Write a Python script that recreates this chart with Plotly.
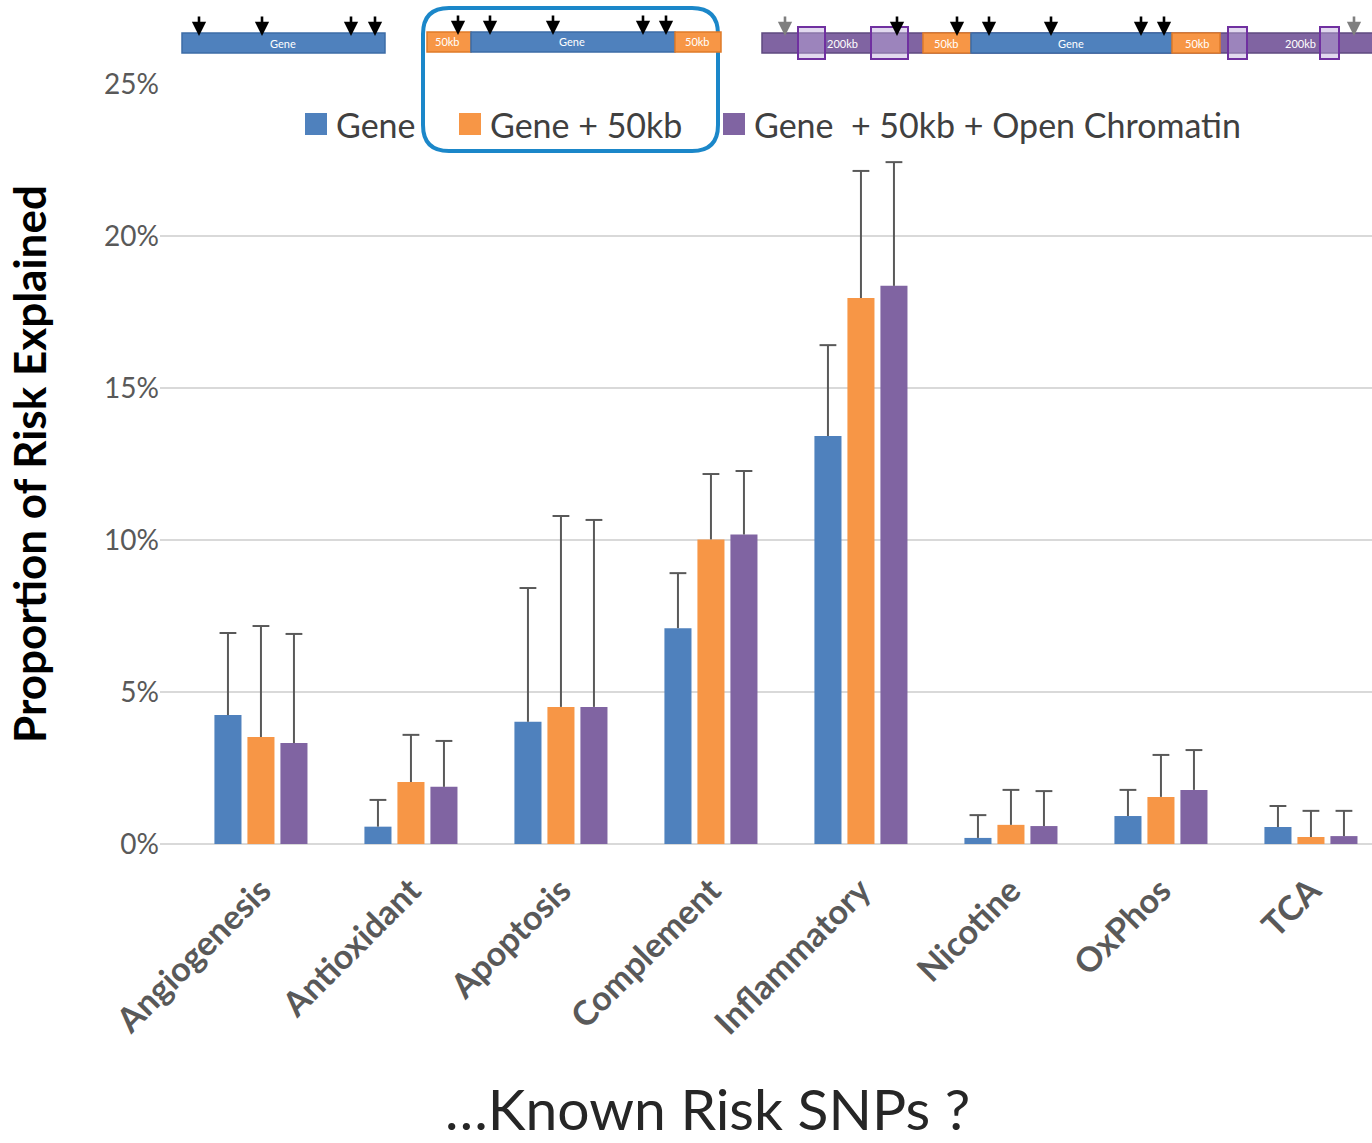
import plotly.graph_objects as go

# ---- data -------------------------------------------------------------
categories = ["Angiogenesis", "Antioxidant", "Apoptosis", "Complement",
              "Inflammatory", "Nicotine", "OxPhos", "TCA"]

series_names = ["Gene", "Gene + 50kb", "Gene  + 50kb + Open Chromatin"]

gene_vals = [4.24, 0.57, 4.02, 7.10, 13.42, 0.20, 0.92, 0.56]
gene_upper = [6.94, 1.45, 8.42, 8.91, 16.41, 0.95, 1.78, 1.25]

gene50_vals = [3.52, 2.04, 4.51, 10.02, 17.96, 0.63, 1.55, 0.23]
gene50_upper = [7.17, 3.59, 10.79, 12.17, 22.14, 1.78, 2.93, 1.09]

chrom_vals = [3.32, 1.88, 4.51, 10.18, 18.36, 0.59, 1.78, 0.26]
chrom_upper = [6.91, 3.39, 10.66, 12.27, 22.43, 1.74, 3.09, 1.09]

y_ticks = [0, 5, 10, 15, 20, 25]
y_tick_labels = ["0%", "5%", "10%", "15%", "20%", "25%"]

# ---- styling ----------------------------------------------------------
BLUE, ORANGE, PURPLE = "#4f81bd", "#f79646", "#8064a2"
GRID = "#d9d9d9"
TXT = "#595959"
FONT = "Lato"

W, H = 1372, 1143
L, R, T, B = 160, 0, 84, 299
PW, PH = W - L - R, H - T - B
GAP = 0.34


def px(x):
    """pixel column -> paper x"""
    return (x - L) / PW


def py(y):
    """pixel row -> paper y"""
    return (H - B - y) / PH


fig = go.Figure()

series = [
    (series_names[0], gene_vals, gene_upper, BLUE),
    (series_names[1], gene50_vals, gene50_upper, ORANGE),
    (series_names[2], chrom_vals, chrom_upper, PURPLE),
]

for k, (name, vals, upper, color) in enumerate(series):
    # bar with a one-sided whisker (no caps on the whisker itself)
    fig.add_trace(go.Bar(
        x=categories, y=vals, name=name, offsetgroup=str(k),
        marker=dict(color=color, line=dict(width=0)),
        error_y=dict(type="data", symmetric=False,
                     array=[u - v for u, v in zip(upper, vals)],
                     color=TXT, thickness=2, width=0),
        showlegend=False,
    ))
for k, (name, vals, upper, color) in enumerate(series):
    # cap at the top of each whisker
    fig.add_trace(go.Scatter(
        x=categories, y=upper, mode="markers", offsetgroup=str(k),
        marker=dict(symbol="line-ew-open", size=12, color=TXT,
                    line=dict(color=TXT, width=2)),
        hoverinfo="skip", showlegend=False,
    ))

shapes = []
annotations = []


def rect(x0, y0, x1, y1, fill, line, lw=1.5, layer="above"):
    shapes.append(dict(type="rect", xref="paper", yref="paper",
                       x0=px(x0), x1=px(x1), y0=py(y1), y1=py(y0),
                       fillcolor=fill, line=dict(color=line, width=lw),
                       layer=layer))


def label(x, y, text, size=11, color="white", anchor="center", weight="normal"):
    annotations.append(dict(xref="paper", yref="paper", x=px(x), y=py(y),
                            text=text, showarrow=False, xanchor=anchor,
                            yanchor="middle",
                            font=dict(family=FONT, size=size, color=color,
                                      weight=weight)))


def arrow(x, y_tip, length=21, color="black"):
    annotations.append(dict(xref="paper", yref="paper", x=px(x), y=py(y_tip),
                            ax=0, ay=-length, text="", showarrow=True,
                            arrowhead=2, arrowsize=1.1, arrowwidth=2.6,
                            arrowcolor=color))


# ---- legend (manual) --------------------------------------------------
legend_items = [(305, BLUE, series_names[0]),
                (459, ORANGE, series_names[1]),
                (723, PURPLE, series_names[2])]
for x0, col, txt in legend_items:
    rect(x0, 113, x0 + 22, 135, col, col, lw=0)
    label(x0 + 29, 124, txt, size=34, color="#404040", anchor="left")

# highlight frame round the second legend entry
x0, x1, y0, y1 = px(423), px(718), py(151), py(8)
rx, ry = 26 / PW, 26 / PH
path = (f"M{x0+rx},{y1} L{x1-rx},{y1} Q{x1},{y1} {x1},{y1-ry} "
        f"L{x1},{y0+ry} Q{x1},{y0} {x1-rx},{y0} L{x0+rx},{y0} "
        f"Q{x0},{y0} {x0},{y0+ry} L{x0},{y1-ry} Q{x0},{y1} {x0+rx},{y1} Z")
shapes.append(dict(type="path", xref="paper", yref="paper", path=path,
                   line=dict(color="#1b87c9", width=4), layer="above"))

# ---- gene region schematics --------------------------------------------
GENE_EDGE, OR_EDGE, PU_EDGE = "#3d6ca6", "#e07b28", "#5f4a80"

# 1: gene body only
rect(182, 33, 385, 53, BLUE, GENE_EDGE)
label(283, 43, "Gene")
for x in [199, 262, 351, 375]:
    arrow(x, 36)

# 2: gene body with 50kb flanks
rect(427, 32, 471, 52, ORANGE, OR_EDGE)
rect(471, 32, 675, 52, BLUE, GENE_EDGE)
rect(675, 32, 721, 52, ORANGE, OR_EDGE)
label(447, 42, "50kb")
label(572, 42, "Gene")
label(697, 42, "50kb")
for x in [458, 490, 553, 643, 666]:
    arrow(x, 35)

# 3: gene body, 50kb flanks, 200kb open-chromatin flanks
rect(762, 33, 1380, 53, PURPLE, PU_EDGE)
rect(923, 33, 971, 53, ORANGE, OR_EDGE)
rect(971, 33, 1172, 53, BLUE, GENE_EDGE)
rect(1172, 33, 1220, 53, ORANGE, OR_EDGE)
for a, b in [(798, 825), (871, 908), (1228, 1247), (1320, 1339)]:
    rect(a, 27, b, 59, "rgba(190,170,220,0.45)", "#7030a0", lw=2)
label(842, 43, "200kb")
label(947, 43, "50kb")
label(1071, 43, "Gene")
label(1197, 43, "50kb")
label(1300, 43, "200kb")
for x in [897, 957, 989, 1051, 1141, 1164]:
    arrow(x, 36)
for x in [785, 1354]:
    arrow(x, 36, color="#7f7f7f")

# bottom caption
label(707, 1108, "…Known Risk SNPs ?", size=57, color="#262626")

fig.update_layout(
    width=W, height=H,
    margin=dict(l=L, r=R, t=T, b=B, autoexpand=False),
    paper_bgcolor="white", plot_bgcolor="white",
    barmode="group", bargap=GAP, bargroupgap=0.18,
    scattermode="group", scattergap=GAP,
    shapes=shapes, annotations=annotations,
    showlegend=False,
    xaxis=dict(range=[-0.673, 7.407], tickangle=-45,
               tickfont=dict(family=FONT, size=34, color=TXT, weight="bold"),
               showgrid=False, showline=False, zeroline=False,
               ticks="outside", ticklen=12, tickcolor="rgba(0,0,0,0)"),
    yaxis=dict(range=[0, 25], tickmode="array", tickvals=y_ticks,
               ticktext=y_tick_labels,
               tickfont=dict(family=FONT, size=28, color=TXT),
               showgrid=True, gridcolor=GRID, gridwidth=1.5,
               zeroline=True, zerolinecolor=GRID, zerolinewidth=2,
               showline=False, ticks="",
               title=dict(text="Proportion of Risk Explained", standoff=43,
                          font=dict(family=FONT, size=44, color="black",
                                    weight="bold"))),
)

fig.write_html("out.html")
